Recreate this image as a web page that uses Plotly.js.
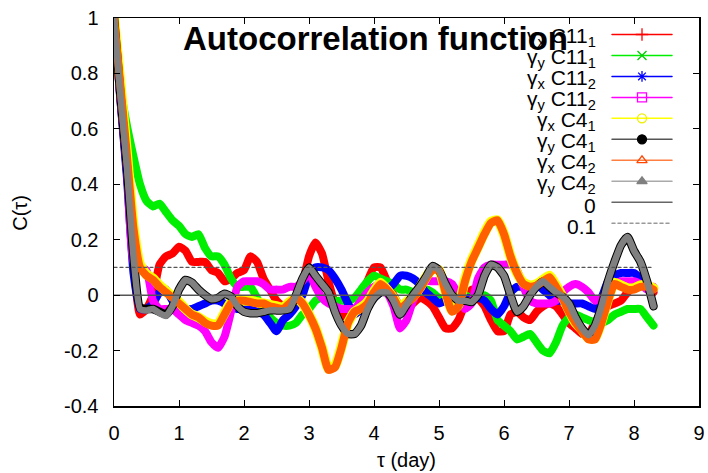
<!DOCTYPE html>
<html>
<head>
<meta charset="utf-8">
<script src="https://cdn.plot.ly/plotly-3.0.1.min.js"></script>
<style>html,body{margin:0;padding:0;background:#fff;}#chart{width:708px;height:473px;}
#chart .scatterlayer path.js-line{stroke-linejoin:round !important;stroke-linecap:round;}</style>
</head>
<body>
<div id="chart"></div>
<script>
// ---- data ----
const tau = [0,0.1,0.2,0.3,0.4,0.5,0.6,0.7,0.8,0.9,
  1.0,1.1,1.2,1.3,1.4,1.5,1.6,1.7,1.8,1.9,
  2.0,2.1,2.2,2.3,2.4,2.5,2.6,2.7,2.8,2.9,
  3.0,3.1,3.2,3.3,3.4,3.5,3.6,3.7,3.8,3.9,
  4.0,4.1,4.2,4.3,4.4,4.5,4.6,4.7,4.8,4.9,
  5.0,5.1,5.2,5.3,5.4,5.5,5.6,5.7,5.8,5.9,
  6.0,6.1,6.2,6.3,6.4,6.5,6.6,6.7,6.8,6.9,
  7.0,7.1,7.2,7.3,7.4,7.5,7.6,7.7,7.8,7.9,
  8.0,8.1,8.2,8.3];

const gxC11_1 = [1.0,0.70,0.44,0.12,-0.07,-0.05,0.00,0.11,0.14,0.15,
  0.175,0.16,0.12,0.12,0.12,0.09,0.08,0.05,0.06,0.08,
  0.09,0.14,0.12,0.06,0.02,-0.02,-0.04,-0.05,-0.03,0.04,
  0.14,0.19,0.15,0.05,-0.03,-0.07,-0.08,-0.06,-0.02,0.05,
  0.10,0.10,0.05,0.00,-0.04,-0.05,-0.03,-0.01,-0.02,-0.04,
  -0.08,-0.12,-0.12,-0.09,-0.03,0.02,-0.01,-0.04,-0.09,-0.13,
  -0.13,-0.07,-0.06,-0.08,-0.09,-0.06,-0.04,-0.03,-0.04,-0.07,
  -0.10,-0.12,-0.14,-0.14,-0.10,-0.06,-0.04,-0.03,-0.02,0.01,
  0.03,0.04,0.03,0.01];

const gyC11_1 = [1.0,0.75,0.61,0.50,0.40,0.34,0.32,0.33,0.30,0.27,
  0.25,0.22,0.21,0.22,0.17,0.14,0.14,0.11,0.06,0.03,
  0.03,0.03,-0.01,-0.05,-0.08,-0.10,-0.11,-0.11,-0.10,-0.07,
  -0.05,-0.02,-0.01,-0.01,-0.02,-0.02,-0.02,-0.01,0.02,0.05,
  0.07,0.06,0.05,0.04,0.02,0.02,0.01,0.01,0.02,0.01,
  -0.01,-0.01,-0.01,0.00,0.00,-0.01,-0.01,0.00,-0.02,-0.09,
  -0.11,-0.13,-0.16,-0.15,-0.14,-0.17,-0.20,-0.21,-0.17,-0.11,
  -0.08,-0.07,-0.08,-0.09,-0.10,-0.10,-0.09,-0.07,-0.06,-0.05,
  -0.05,-0.05,-0.08,-0.11];

const gxC11_2 = [1.0,0.70,0.42,0.08,-0.05,-0.05,-0.03,0.01,0.02,-0.02,
  -0.03,-0.05,-0.05,-0.04,-0.03,-0.02,-0.02,-0.03,-0.04,-0.05,
  -0.05,-0.05,-0.06,-0.07,-0.10,-0.13,-0.09,-0.07,-0.04,0.00,
  0.07,0.10,0.10,0.09,0.06,0.02,-0.03,-0.07,-0.05,-0.02,
  -0.01,0.01,0.02,0.04,0.07,0.07,0.06,0.04,0.01,-0.01,
  -0.03,-0.02,-0.01,-0.01,-0.01,-0.01,-0.01,-0.02,-0.05,-0.07,
  -0.04,0.01,0.03,0.03,0.03,0.04,0.02,0.00,-0.02,-0.02,
  -0.03,-0.03,-0.03,-0.04,-0.05,-0.01,0.05,0.07,0.08,0.08,
  0.08,0.06,0.03,0.02];

const gyC11_2 = [1.0,0.71,0.45,0.12,0.10,0.09,-0.02,-0.05,-0.05,-0.05,
  -0.07,-0.09,-0.10,-0.11,-0.13,-0.17,-0.19,-0.15,-0.06,0.03,
  0.05,0.05,0.05,0.04,0.02,0.02,0.02,0.03,0.03,0.05,
  0.08,0.03,-0.01,-0.03,-0.04,-0.05,-0.05,-0.05,-0.02,0.01,
  0.03,0.04,0.01,-0.04,-0.12,-0.09,-0.02,0.03,0.05,0.05,
  0.05,0.05,0.04,0.00,-0.05,-0.03,0.06,0.10,0.11,0.11,
  0.11,0.11,0.09,0.03,-0.02,-0.03,-0.03,-0.03,-0.02,0.01,
  0.03,0.04,0.03,0.01,-0.02,-0.01,0.01,0.04,0.05,0.05,
  0.05,0.04,0.02,0.03];

const gxC4_1 = [1.0,0.76,0.51,0.25,0.11,0.075,0.06,0.035,0.015,-0.005,
  -0.025,-0.05,-0.07,-0.08,-0.095,-0.105,-0.105,-0.065,-0.025,-0.015,
  -0.02,-0.02,-0.025,-0.03,-0.035,-0.04,-0.045,-0.025,-0.01,-0.03,
  -0.07,-0.12,-0.19,-0.265,-0.255,-0.185,-0.10,-0.06,-0.045,-0.025,
  0.015,0.045,0.02,-0.01,-0.045,-0.025,-0.005,0.025,0.065,0.095,
  0.09,0.015,-0.055,-0.035,0.055,0.125,0.175,0.225,0.265,0.27,
  0.22,0.14,0.08,0.045,0.035,0.04,0.055,0.07,0.035,-0.005,
  -0.055,-0.10,-0.125,-0.155,-0.155,-0.095,-0.015,0.045,0.035,0.025,
  0.025,0.035,0.035,0.025];

const gyC4_1 = [1.0,0.72,0.46,0.14,-0.045,-0.05,-0.05,-0.06,-0.07,-0.04,
  0.02,0.055,0.045,0.02,0.0,-0.015,-0.01,0.005,-0.005,-0.04,
  -0.06,-0.065,-0.065,-0.06,-0.055,-0.055,-0.055,-0.05,0.0,0.06,
  0.10,0.07,0.04,0.01,-0.06,-0.11,-0.14,-0.14,-0.11,-0.05,
  -0.01,0.01,0.01,-0.02,-0.07,-0.035,0.0,0.03,0.065,0.105,
  0.09,0.04,0.0,-0.02,-0.02,-0.025,0.0,0.07,0.11,0.10,
  0.07,0.0,-0.06,-0.04,0.0,0.03,0.05,0.03,0.01,-0.005,
  -0.03,-0.08,-0.12,-0.145,-0.11,-0.04,0.05,0.12,0.18,0.21,
  0.16,0.12,0.05,-0.04];

const gxC4_2 = [1.0,0.75,0.50,0.24,0.10,0.07,0.055,0.03,0.01,-0.01,
  -0.03,-0.05,-0.07,-0.08,-0.10,-0.11,-0.11,-0.07,-0.03,-0.02,
  -0.02,-0.025,-0.03,-0.03,-0.04,-0.045,-0.05,-0.03,-0.01,-0.03,
  -0.07,-0.12,-0.19,-0.27,-0.26,-0.19,-0.10,-0.06,-0.05,-0.03,
  0.01,0.04,0.02,-0.01,-0.05,-0.03,-0.01,0.02,0.06,0.09,
  0.09,0.01,-0.06,-0.04,0.05,0.12,0.17,0.22,0.26,0.27,
  0.22,0.14,0.08,0.04,0.03,0.035,0.05,0.065,0.03,-0.01,
  -0.06,-0.10,-0.13,-0.16,-0.16,-0.10,-0.02,0.04,0.03,0.02,
  0.02,0.03,0.03,0.02];

const gyC4_2 = [1.0,0.72,0.46,0.14,-0.05,-0.055,-0.05,-0.065,-0.075,-0.04,
  0.02,0.055,0.045,0.02,0.0,-0.015,-0.01,0.005,-0.005,-0.04,
  -0.06,-0.065,-0.065,-0.06,-0.055,-0.055,-0.055,-0.05,0.0,0.06,
  0.10,0.07,0.04,0.01,-0.06,-0.11,-0.14,-0.14,-0.11,-0.05,
  -0.01,0.01,0.01,-0.02,-0.07,-0.035,0.0,0.03,0.065,0.105,
  0.09,0.04,0.0,-0.02,-0.02,-0.025,0.0,0.07,0.11,0.10,
  0.07,0.0,-0.06,-0.04,0.0,0.03,0.05,0.03,0.01,-0.005,
  -0.03,-0.08,-0.12,-0.145,-0.11,-0.04,0.05,0.12,0.18,0.21,
  0.16,0.12,0.05,-0.04];

const refZero = 0;
const refTenth = 0.1;

const seriesNames = ['γ<sub>x</sub> C11<sub>1</sub>','γ<sub>y</sub> C11<sub>1</sub>',
  'γ<sub>x</sub> C11<sub>2</sub>','γ<sub>y</sub> C11<sub>2</sub>',
  'γ<sub>x</sub> C4<sub>1</sub>','γ<sub>y</sub> C4<sub>1</sub>',
  'γ<sub>x</sub> C4<sub>2</sub>','γ<sub>y</sub> C4<sub>2</sub>','0','0.1'];
const yTickVals = [-0.4,-0.2,0,0.2,0.4,0.6,0.8,1];
const yTickText = ['-0.4','-0.2','0','0.2','0.4','0.6','0.8','1'];
const xTickVals = [0,1,2,3,4,5,6,7,8,9];

// ---- styles ----
const seriesData = [gxC11_1, gyC11_1, gxC11_2, gyC11_2, gxC4_1, gyC4_1, gxC4_2, gyC4_2];
const colors = ['#ff0000','#00ee00','#0000ff','#ff00ff','#ffff00','#000000','#ff5f00','#808080'];
const widths = [8, 8, 8, 8, 10, 8.5, 8, 6.5];
const legendColors = ['#ff0000','#00ee00','#0000ff','#ff00ff','#ffff00','#555555','#ff7f40','#aaaaaa','#666666','#999999'];
const symbols = ['cross-thin-open','x-thin-open','asterisk-open','square-open','circle-open','circle','triangle-up-open','triangle-up'];
const markerColors = ['#ff0000','#00cc00','#0000ff','#ff00ff','#eeee00','#000000','#ff4500','#808080'];

const traces = [];
seriesData.forEach((ys, i) => {
  traces.push({x: tau, y: ys, type: 'scatter', mode: 'lines', showlegend: false,
    line: {color: colors[i], width: widths[i], shape: 'spline', smoothing: 0.5}, hoverinfo: 'skip'});
});
traces.push({x: tau, y: tau.map(() => refZero), type: 'scatter', mode: 'lines', showlegend: false,
  line: {color: '#555555', width: 1.5}});
traces.push({x: tau, y: tau.map(() => refTenth), type: 'scatter', mode: 'lines', showlegend: false,
  line: {color: '#555555', width: 1.2, dash: 'dot'}});

// custom gnuplot-style legend (text left, sample right)
const plotTop = 18, plotBottom = 406.5, plotLeft = 114, plotRight = 699;
const pw = plotRight - plotLeft, ph = plotBottom - plotTop;
const rowPx = i => 34.5 + 21 * i;
const fy = py => (plotBottom - py) / ph;
const fx = px => (px - plotLeft) / pw;
const annotations = [];
annotations.push({text: '<b>Autocorrelation function</b>', xref: 'paper', yref: 'paper',
  x: fx(375.5), y: fy(39), xanchor: 'center', yanchor: 'middle', showarrow: false,
  font: {family: 'Liberation Sans, Arial, sans-serif', size: 33, color: '#000'}});
seriesNames.forEach((name, i) => {
  const y = fy(rowPx(i));
  annotations.push({text: name, xref: 'paper', yref: 'paper', x: fx(598), y: y,
    xanchor: 'right', yanchor: 'middle', yshift: -3, showarrow: false,
    font: {family: 'Liberation Sans, Arial, sans-serif', size: 21, color: '#000'}});
  const lineTrace = {x: [fx(612), fx(672)], y: [y, y], xaxis: 'x2', yaxis: 'y2', type: 'scatter',
    mode: 'lines', showlegend: false, hoverinfo: 'skip', cliponaxis: false,
    line: {color: legendColors[i], width: 1.5, dash: i === 9 ? 'dot' : 'solid'}};
  traces.push(lineTrace);
  if (i < 8) {
    traces.push({x: [fx(642)], y: [y], xaxis: 'x2', yaxis: 'y2', type: 'scatter', mode: 'markers',
      showlegend: false, hoverinfo: 'skip', cliponaxis: false,
      marker: {symbol: symbols[i], size: 9, color: markerColors[i], line: {color: markerColors[i], width: 1.3}}});
  }
});
annotations.push({text: 'τ (day)', xref: 'paper', yref: 'paper', x: 0.5, y: fy(461),
  xanchor: 'center', yanchor: 'middle', showarrow: false,
  font: {family: 'Liberation Sans, Arial, sans-serif', size: 20, color: '#000'}});
annotations.push({text: 'C(τ)', xref: 'paper', yref: 'paper', x: fx(20), y: fy(213),
  xanchor: 'center', yanchor: 'middle', showarrow: false, textangle: -90,
  font: {family: 'Liberation Sans, Arial, sans-serif', size: 20, color: '#000'}});

const axisCommon = {showgrid: false, zeroline: false, showline: true, linecolor: '#000', linewidth: 1.5,
  ticks: 'inside', ticklen: 6, tickwidth: 1, tickcolor: '#000', mirror: 'ticks',
  tickfont: {family: 'Liberation Sans, Arial, sans-serif', size: 20, color: '#000'}};

const layout = {
  width: 708, height: 473,
  margin: {l: plotLeft, r: 708 - plotRight, t: plotTop, b: 473 - plotBottom},
  paper_bgcolor: '#fff', plot_bgcolor: '#fff',
  showlegend: false,
  xaxis: Object.assign({}, axisCommon, {range: [0, 9], tickvals: xTickVals, ticklabelstandoff: 8}),
  yaxis: Object.assign({}, axisCommon, {range: [-0.4, 1], tickvals: yTickVals, ticktext: yTickText, ticklabelstandoff: 10}),
  xaxis2: {overlaying: 'x', anchor: 'y2', range: [0, 1], visible: false},
  yaxis2: {overlaying: 'y', anchor: 'x2', range: [0, 1], visible: false},
  annotations: annotations
};

Plotly.newPlot('chart', traces, layout, {staticPlot: true, displayModeBar: false});
</script>
</body>
</html>
